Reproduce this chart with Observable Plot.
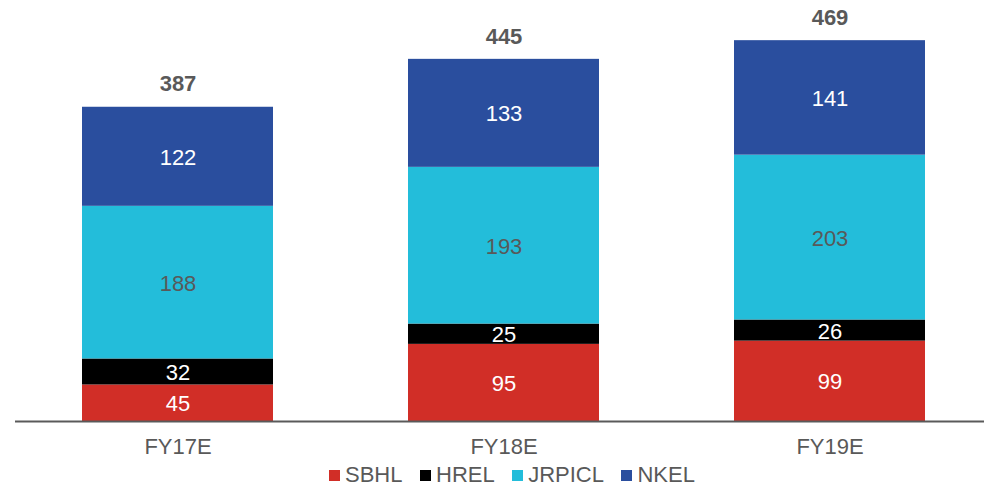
<!DOCTYPE html>
<html><head><meta charset="utf-8">
<script src="https://cdn.jsdelivr.net/npm/d3@7"></script>
<script src="https://cdn.jsdelivr.net/npm/@observablehq/plot@0.6"></script>
<style>
body{margin:0;background:#fff;font-family:"Liberation Sans",Arial,sans-serif;}
#legend{display:flex;justify-content:center;align-items:center;height:30px;font-size:22px;color:#595959;padding-left:40px;}
.item{display:flex;align-items:center;margin:0 8.75px;}
.sw{width:11px;height:11px;margin-right:5px;}
</style></head><body><div id="chart"></div><div id="legend"></div>
<script>
const years = ["FY17E", "FY18E", "FY19E"];
const series = ["SBHL", "HREL", "JRPICL", "NKEL"];
const SBHL = [45, 95, 99];
const HREL = [32, 25, 26];
const JRPICL = [188, 193, 203];
const NKEL = [122, 133, 141];
const totals = [387, 445, 469];

const colors = {SBHL: "#d12e27", HREL: "#000000", JRPICL: "#23bdda", NKEL: "#2a4e9e"};
const labelColors = {SBHL: "#ffffff", HREL: "#ffffff", JRPICL: "#595959", NKEL: "#ffffff"};
const values = {SBHL, HREL, JRPICL, NKEL};
const data = series.flatMap(s => years.map((y, i) => ({year: y, series: s, value: values[s][i]})));
const totalData = years.map((y, i) => ({year: y, total: totals[i]}));

const chart = Plot.plot({
  width: 984, height: 460, marginTop: 15, marginBottom: 39, marginLeft: 33, marginRight: 10,
  style: {fontFamily: '"Liberation Sans", Arial, sans-serif', fontSize: "22px", color: "#595959", background: "white"},
  x: {domain: years, paddingInner: 0.414, paddingOuter: 0.15, label: null, tickSize: 0, tickPadding: 17},
  y: {domain: [0, 500], axis: null},
  color: {type: "identity"},
  marks: [
    Plot.barY(data, {x: "year", y: "value", z: "series", fill: d => colors[d.series]}),
    Plot.text(data, Plot.stackY({x: "year", y: "value", z: "series", text: d => String(d.value), fill: d => labelColors[d.series], fontSize: 22, dy: 1})),
    Plot.text(totalData, {x: "year", y: "total", text: d => String(d.total), dy: -23, fontWeight: "bold", fill: "#595959", fontSize: 22}),
    Plot.ruleY([0], {stroke: "#5a5a5a", strokeWidth: 2, insetLeft: -18, insetRight: -10})
  ]
});
document.getElementById("chart").appendChild(chart);

const legend = document.getElementById("legend");
for (const s of series) {
  const item = document.createElement("div");
  item.className = "item";
  const sw = document.createElement("span");
  sw.className = "sw";
  sw.style.background = colors[s];
  const t = document.createElement("span");
  t.textContent = s;
  item.appendChild(sw);
  item.appendChild(t);
  legend.appendChild(item);
}
</script>
</body></html>
